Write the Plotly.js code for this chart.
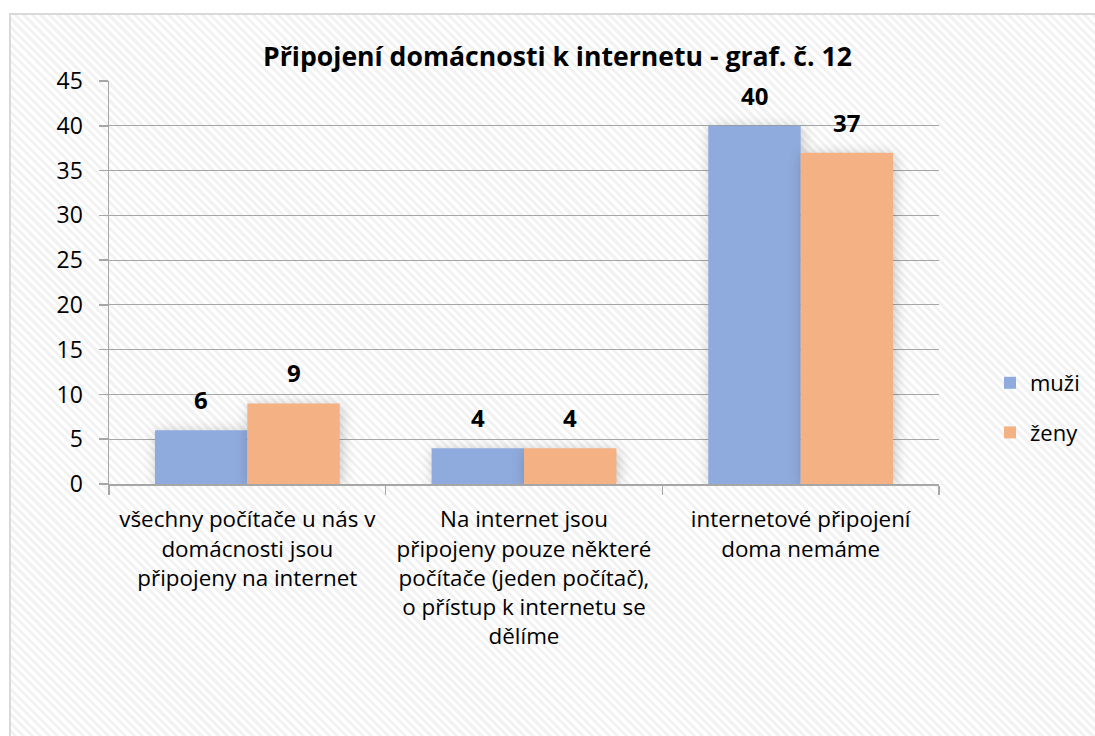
<!DOCTYPE html>
<html>
<head>
<meta charset="utf-8">
<script src="https://cdn.plot.ly/plotly-3.0.1.min.js"></script>
<style>
  html, body { margin:0; padding:0; width:1095px; height:736px; overflow:hidden; background:#ffffff; }
  #bg { position:absolute; left:9px; top:13px; width:1100px; height:740px;
        border-top:2px solid #d9d9d9; border-left:2px solid #d9d9d9;
        background: repeating-linear-gradient(45deg, #ffffff 0px, #ffffff 3px, #f2f2f2 3px, #f2f2f2 6px); }
  #chart { position:absolute; left:0; top:0; width:1095px; height:736px; }
  #chart .barlayer .point path { filter: drop-shadow(2px 2px 7px rgba(0,0,0,0.22)); }
</style>
</head>
<body>
<div id="bg"></div>
<div id="chart"></div>
<script>
const categories = [
  "všechny počítače u nás v<br>domácnosti jsou<br>připojeny na internet",
  "Na internet jsou<br>připojeny pouze některé<br>počítače (jeden počítač),<br>o přístup k internetu se<br>dělíme",
  "internetové připojení<br>doma nemáme"
];
const muzi = [6, 4, 40];
const zeny = [9, 4, 37];
const seriesNames = ["muži", "ženy"];
const yTicks = [0, 5, 10, 15, 20, 25, 30, 35, 40, 45];

const fontFam = "'Open Sans', 'Noto Sans', sans-serif";
const W = 1095, H = 736;
const margin = {l: 109, r: 156, t: 81, b: 252};
const bargap = 0.332;

// bar width in px derived from layout settings, used to centre labels over each bar
const catW = (W - margin.l - margin.r) / categories.length;
const barW = catW * (1 - bargap) / 2;

const traces = [
  {type: "bar", name: seriesNames[0], x: categories, y: muzi, marker: {color: "#8FAADC"},
   legendgroup: "a", hoverinfo: "none"},
  {type: "bar", name: seriesNames[1], x: categories, y: zeny, marker: {color: "#F4B183"},
   legendgroup: "b", hoverinfo: "none"}
];

const annotations = [];
[muzi, zeny].forEach((vals, si) => {
  vals.forEach((v, i) => {
    annotations.push({
      x: categories[i], y: v, xref: "x", yref: "y",
      text: "<b>" + v + "</b>", showarrow: false,
      xanchor: "center", yanchor: "bottom",
      xshift: (si === 0 ? -1 : 1) * barW / 2, yshift: 12,
      font: {family: fontFam, size: 24, color: "#000000"}
    });
  });
});

const layout = {
  width: W, height: H,
  paper_bgcolor: "rgba(0,0,0,0)", plot_bgcolor: "rgba(0,0,0,0)",
  margin: margin,
  barmode: "group", bargap: bargap, bargroupgap: 0,
  font: {family: fontFam, size: 22, color: "#000000"},
  title: {text: "<b>Připojení domácnosti k internetu - graf. č. 12</b>",
          font: {family: fontFam, size: 26.6, color: "#000000"},
          xref: "container", x: 557.5 / W, xanchor: "center",
          yref: "container", y: 1 - 57 / H, yanchor: "middle"},
  xaxis: {type: "category", showline: true, linecolor: "#a6a6a6", linewidth: 1.5,
          ticks: "outside", tickson: "boundaries", ticklen: 9, tickcolor: "#a6a6a6", tickwidth: 1.5,
          tickfont: {family: fontFam, size: 22.4, color: "#000000"}, showgrid: false,
          ticklabelstandoff: 15},
  yaxis: {range: [0, 45], tickvals: yTicks, showgrid: true, gridcolor: "#a6a6a6", gridwidth: 1.2,
          showline: true, linecolor: "#a6a6a6", linewidth: 1.5,
          ticks: "outside", ticklen: 9, tickcolor: "#a6a6a6", tickwidth: 1.5,
          zeroline: false, tickfont: {family: fontFam, size: 23, color: "#000000"},
          ticklabelstandoff: 11},
  annotations: annotations,
  showlegend: true,
  legend: {xref: "container", yref: "container", x: 990 / W, y: 1 - 362 / H,
           xanchor: "left", yanchor: "top", font: {family: fontFam, size: 22, color: "#000000"},
           tracegroupgap: 18, bgcolor: "rgba(0,0,0,0)", traceorder: "grouped"}
};

Plotly.newPlot("chart", traces, layout, {displayModeBar: false, staticPlot: true});
</script>
</body>
</html>
